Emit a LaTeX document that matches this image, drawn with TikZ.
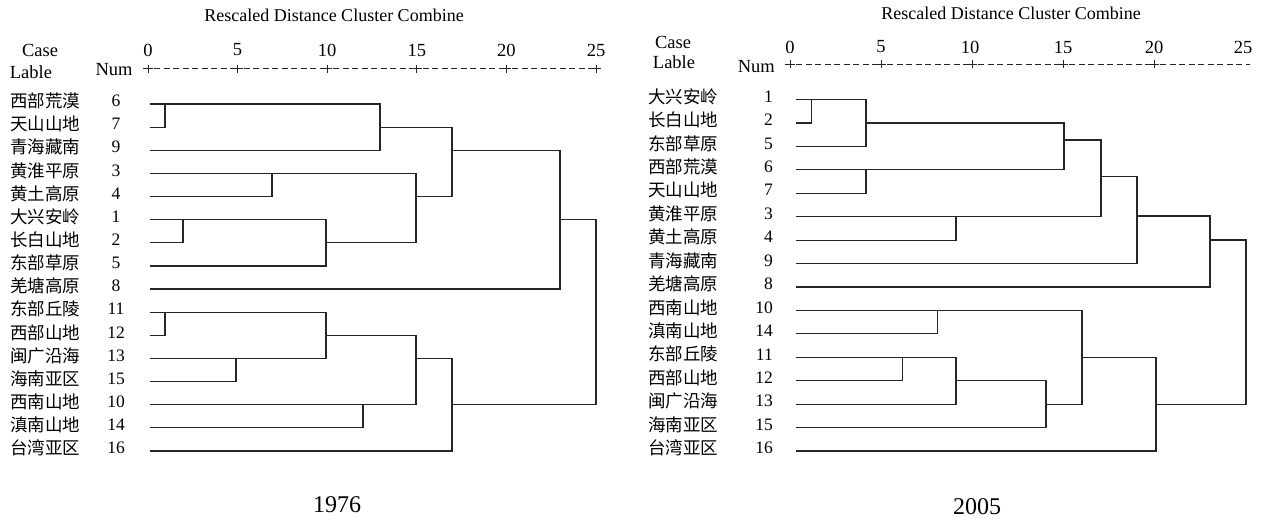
\documentclass[tikz,border=0pt]{standalone}
\usepackage{fontspec}
\setmainfont{Liberation Serif}
\newfontfamily\cjk{Noto Sans CJK SC}
\begin{document}
\begin{tikzpicture}[x=1pt,y=-1pt,
  dl/.style={line width=1.2pt, draw=black!85, line join=miter, line cap=rect},
  lab/.style={inner sep=0pt, font=\cjk\fontsize{17.5}{18}\selectfont, anchor=west},
  num/.style={inner sep=0pt, font=\fontsize{17.5}{17.5}\selectfont},
  numr/.style={inner sep=0pt, font=\fontsize{17.5}{17.5}\selectfont, anchor=east},
  hdr/.style={inner sep=0pt, font=\fontsize{18.5}{18.5}\selectfont},
  ttl/.style={inner sep=0pt, font=\fontsize{18}{18}\selectfont},
  yr/.style={inner sep=0pt, font=\fontsize{24}{24}\selectfont},
  axs/.style={line width=1pt, draw=black!85},
  axd/.style={line width=1pt, draw=black!85, dash pattern=on 6pt off 3.5pt}]
\useasboundingbox (0,0) rectangle (1267,520);

% ---------------- left (1976) ----------------
\node[ttl] (tL) at (334,15) {Rescaled Distance Cluster Combine};
\node[hdr] (caseL) at (40,50) {Case};
\node[hdr] (lableL) at (31,72) {Lable};
\node[hdr] (numL) at (114,70) {Num};
\foreach \t/\s [count=\j from 0] in {148/0,237.6/5,327.2/10,416.8/15,506.4/20,596/25}{
  \node[hdr] (axL\j) at (\t,50) {\s};
  \draw[axs] (\t-5,68.5) -- (\t+5,68.5);
  \draw[axs] (\t,64.5) -- (\t,72.5);
}
\foreach \a/\b in {148/237.6,237.6/327.2,327.2/416.8,416.8/506.4,506.4/596}
  \draw[axd] (\a+6,68.5) -- (\b-5,68.5);

\foreach \n/\k [count=\i from 0] in {西部荒漠/6,天山山地/7,青海藏南/9,黄淮平原/3,黄土高原/4,大兴安岭/1,长白山地/2,东部草原/5,羌塘高原/8,东部丘陵/11,西部山地/12,闽广沿海/13,海南亚区/15,西南山地/10,滇南山地/14,台湾亚区/16}{
  \node[lab] (lL\i) at (10,{104+\i*23.13-3}) {\n};
  \node[num] (nL\i) at (116,{104+\i*23.13-3}) {\k};
}

\def\aa{104}\def\ab{127.1}\def\ac{150.3}\def\ad{173.4}\def\ae{196.5}\def\af{219.7}\def\ag{242.8}\def\ah{265.9}
\def\ai{289.0}\def\aj{312.2}\def\ak{335.3}\def\al{358.4}\def\am{381.6}\def\an{404.7}\def\ao{427.8}\def\ap{451.0}
\draw[dl] (151,\aa) -- (380,\aa) -- (380,\ac) -- (151,\ac);
\draw[dl] (151,\ab) -- (165,\ab) -- (165,\aa);
\draw[dl] (380,\ab) -- (452,\ab) -- (452,\ae) -- (416,\ae);
\draw[dl] (151,\ad) -- (416,\ad) -- (416,\ag) -- (326,\ag);
\draw[dl] (151,\ae) -- (272,\ae) -- (272,\ad);
\draw[dl] (151,\af) -- (326,\af) -- (326,\ah) -- (151,\ah);
\draw[dl] (151,\ag) -- (183,\ag) -- (183,\af);
\draw[dl] (452,\ac) -- (560,\ac) -- (560,\ai) -- (151,\ai);
\draw[dl] (560,\af) -- (596,\af) -- (596,\an) -- (452,\an);
\draw[dl] (151,\aj) -- (326,\aj) -- (326,\al) -- (151,\al);
\draw[dl] (151,\ak) -- (165,\ak) -- (165,\aj);
\draw[dl] (236,\al) -- (236,\am) -- (151,\am);
\draw[dl] (326,\ak) -- (416,\ak) -- (416,\an) -- (151,\an);
\draw[dl] (151,\ao) -- (363,\ao) -- (363,\an);
\draw[dl] (416,\al) -- (452,\al) -- (452,\ap) -- (151,\ap);

\node[yr] (yL) at (337,505) {1976};

% ---------------- right (2005) ----------------
\node[ttl] (tR) at (1011,13) {Rescaled Distance Cluster Combine};
\node[hdr] (caseR) at (673,42) {Case};
\node[hdr] (lableR) at (674,62) {Lable};
\node[hdr,anchor=east] (numR) at (775,67) {Num};
\foreach \t/\s/\u [count=\j from 0] in {790/0/790,881/5/881,972/10/970,1063/15/1063,1154/20/1154}{
  \node[hdr] (axR\j) at (\u,47) {\s};
  \draw[axs] (\t-5,64) -- (\t+5,64);
  \draw[axs] (\t,60) -- (\t,68);
}
\node[hdr] (axR5) at (1243,47) {25};
\foreach \a/\b in {790/881,881/972,972/1063,1063/1154}
  \draw[axd] (\a+6,64) -- (\b-5,64);
\draw[axd] (1160,64) -- (1250,64);

\foreach \n/\k [count=\i from 0] in {大兴安岭/1,长白山地/2,东部草原/5,西部荒漠/6,天山山地/7,黄淮平原/3,黄土高原/4,青海藏南/9,羌塘高原/8,西南山地/10,滇南山地/14,东部丘陵/11,西部山地/12,闽广沿海/13,海南亚区/15,台湾亚区/16}{
  \node[lab] (lR\i) at (648,{99.5+\i*23.43-3}) {\n};
  \node[numr] (nR\i) at (773,{99.5+\i*23.43-3}) {\k};
}

\def\ba{99.5}\def\bb{122.9}\def\bc{146.4}\def\bd{169.8}\def\be{193.2}\def\bf{216.7}\def\bg{240.1}\def\bh{263.5}
\def\bi{287}\def\bj{310.4}\def\bk{333.8}\def\bl{357.2}\def\bm{380.7}\def\bn{404.1}\def\bo{427.5}\def\bp{451}
\draw[dl] (797,\ba) -- (866,\ba) -- (866,\bc) -- (797,\bc);
\draw[dl] (797,\bb) -- (811.5,\bb) -- (811.5,\ba);
\draw[dl] (866,\bb) -- (1064,\bb) -- (1064,\bd) -- (797,\bd);
\draw[dl] (797,\be) -- (866,\be) -- (866,\bd);
\draw[dl] (1064,140) -- (1101,140) -- (1101,\bf) -- (797,\bf);
\draw[dl] (797,\bg) -- (956,\bg) -- (956,\bf);
\draw[dl] (1101,176.7) -- (1137,176.7) -- (1137,\bh) -- (797,\bh);
\draw[dl] (1137,216) -- (1210,216) -- (1210,\bi) -- (797,\bi);
\draw[dl] (1210,240) -- (1246,240) -- (1246,\bn) -- (1156,\bn);
\draw[dl] (797,\bj) -- (1082,\bj) -- (1082,\bn) -- (1046,\bn);
\draw[dl] (797,\bk) -- (937.5,\bk) -- (937.5,\bj);
\draw[dl] (797,\bl) -- (956,\bl) -- (956,\bn) -- (797,\bn);
\draw[dl] (797,\bm) -- (902.5,\bm) -- (902.5,\bl);
\draw[dl] (956,\bm) -- (1046,\bm) -- (1046,\bo) -- (797,\bo);
\draw[dl] (1082,\bl) -- (1156,\bl) -- (1156,\bp) -- (797,\bp);

\node[yr] (yR) at (977,507) {2005};
\end{tikzpicture}
\end{document}
